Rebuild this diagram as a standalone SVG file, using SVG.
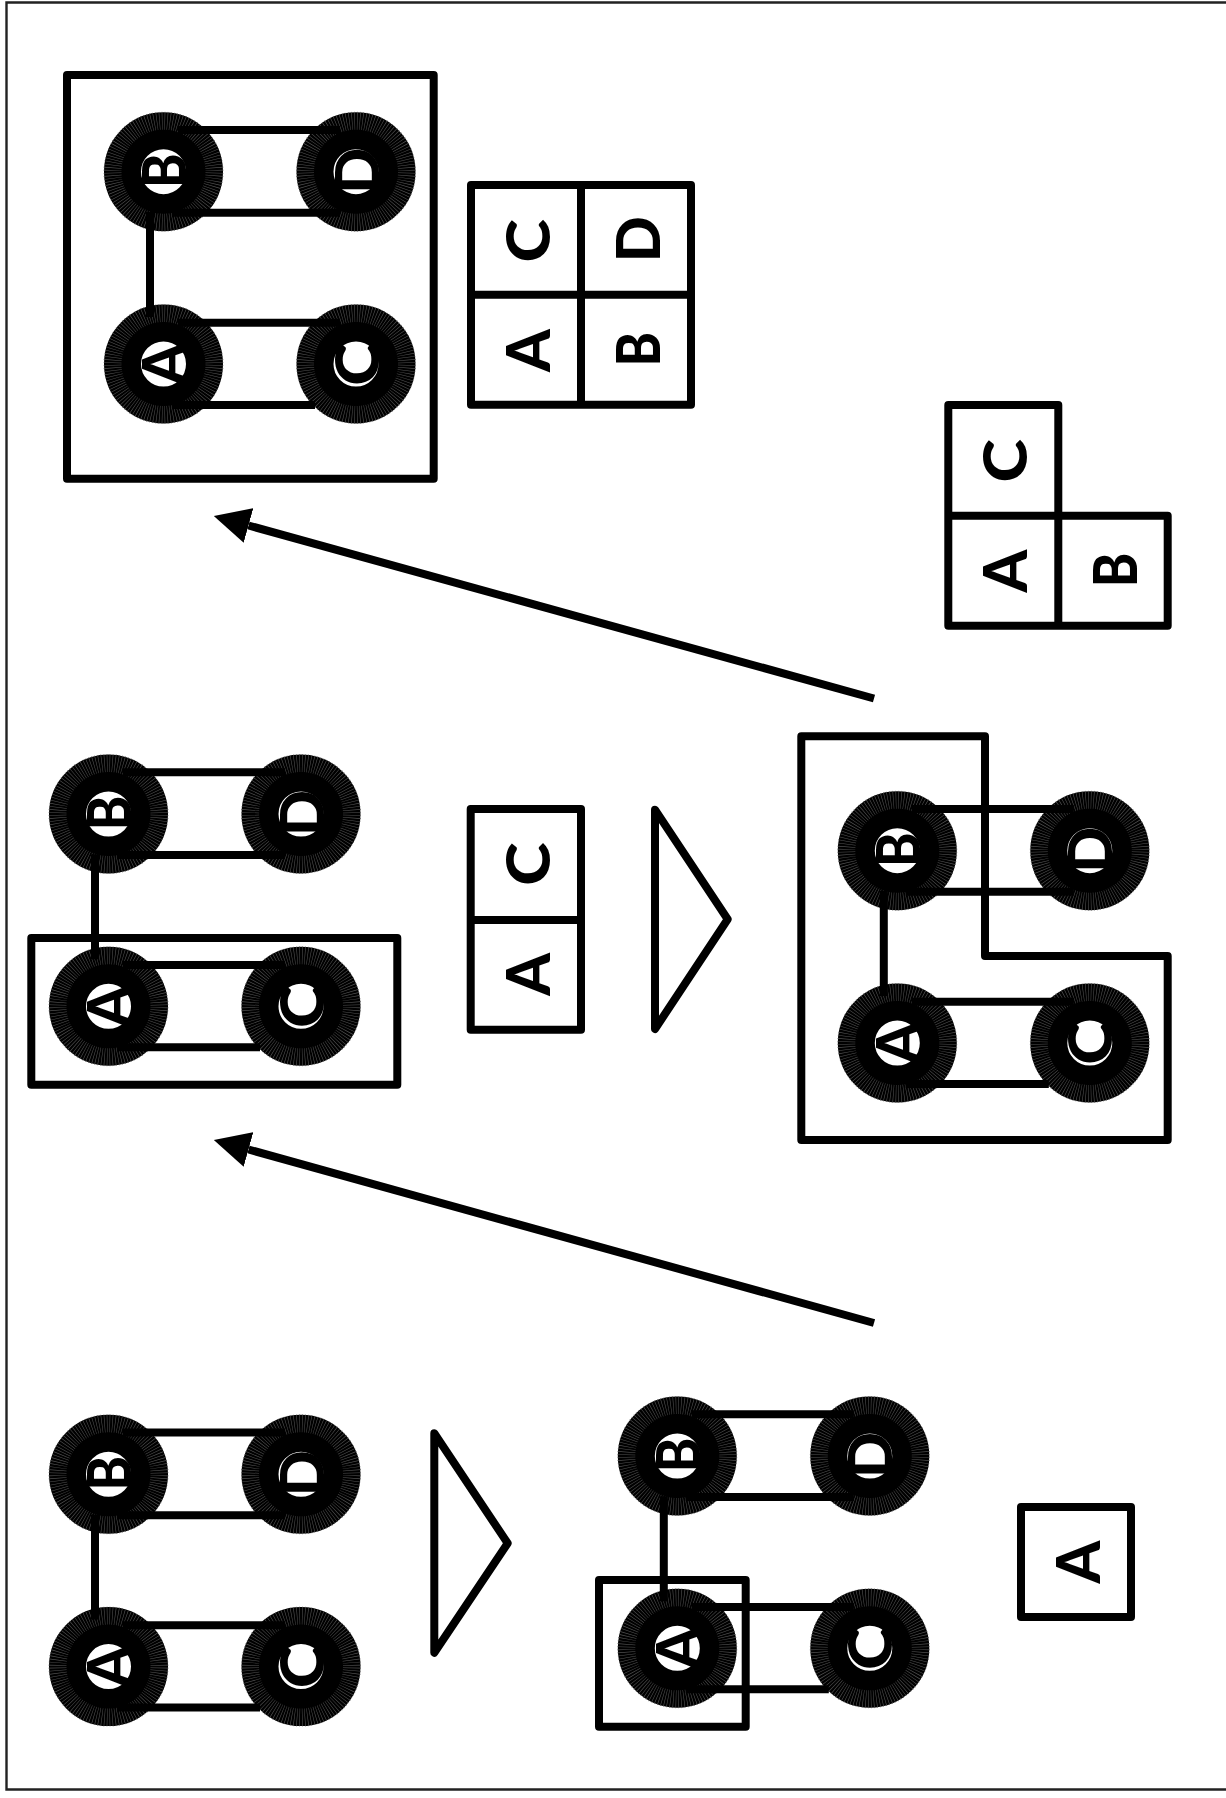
<svg xmlns="http://www.w3.org/2000/svg" xmlns:xlink="http://www.w3.org/1999/xlink" width="1226" height="1798" viewBox="0 0 1226 1798">
<style>
.o{fill:none;stroke:#000;stroke-width:8;stroke-linejoin:round}
.ring{fill:none;stroke:#000;stroke-width:37}
.sp{fill:none;stroke:#555;stroke-width:18;stroke-dasharray:.6 2.4;stroke-dashoffset:-1.2}
.l{font-family:"Lato","Liberation Sans",sans-serif;font-weight:900;font-size:61px;text-anchor:middle;fill:#000}
.e{stroke:#000;stroke-width:8;fill:none}
</style>
<defs>
<marker id="ah" markerUnits="userSpaceOnUse" viewBox="0 -18 36 36" refX="0" refY="0" markerWidth="36" markerHeight="36" orient="auto"><path d="M0,-18L36,0L0,18Z" fill="#000"/></marker>
<g id="net" class="e"><path d="M178,130H340"/><path d="M172,212.7H340"/><path d="M178,322.7H340"/><path d="M172,405H315"/><path d="M150,212V317"/></g>
</defs>
<rect width="1226" height="1798" fill="#fff"/>
<path d="M1230,2.5H6.5V1789.5H1230" fill="none" stroke="#222" stroke-width="2.4"/>

<g id="c1-B" transform="translate(163.5,171.7)"><circle class="ring" r="41"/><circle class="sp" r="51" pathLength="360"/><text class="l" transform="translate(22.5,-1) rotate(-90) scale(.85,1)">B</text></g>
<g id="c1-D" transform="translate(356,171.7)"><circle class="ring" r="41"/><circle class="sp" r="51" pathLength="360"/><text class="l" transform="translate(22.5,-1) rotate(-90)">D</text></g>
<g id="c1-A" transform="translate(163.5,364)"><circle class="ring" r="41"/><circle class="sp" r="51" pathLength="360"/><text class="l" transform="translate(22.5,0) rotate(-90)">A</text></g>
<g id="c1-C" transform="translate(356,364)"><circle class="ring" r="41"/><circle class="sp" r="51" pathLength="360"/><text class="l" transform="translate(22.5,0) rotate(-90) scale(1.08,1)">C</text></g>

<g id="c2-B" transform="translate(108.5,814)"><circle class="ring" r="41"/><circle class="sp" r="51" pathLength="360"/><text class="l" transform="translate(22.5,-1) rotate(-90) scale(.85,1)">B</text></g>
<g id="c2-D" transform="translate(301,814)"><circle class="ring" r="41"/><circle class="sp" r="51" pathLength="360"/><text class="l" transform="translate(22.5,-1) rotate(-90)">D</text></g>
<g id="c2-A" transform="translate(108.5,1006.3)"><circle class="ring" r="41"/><circle class="sp" r="51" pathLength="360"/><text class="l" transform="translate(22.5,0) rotate(-90)">A</text></g>
<g id="c2-C" transform="translate(301,1006.3)"><circle class="ring" r="41"/><circle class="sp" r="51" pathLength="360"/><text class="l" transform="translate(22.5,0) rotate(-90) scale(1.08,1)">C</text></g>

<g id="c3-B" transform="translate(897.3,850.7)"><circle class="ring" r="41"/><circle class="sp" r="51" pathLength="360"/><text class="l" transform="translate(22.5,-1) rotate(-90) scale(.85,1)">B</text></g>
<g id="c3-D" transform="translate(1089.8,850.7)"><circle class="ring" r="41"/><circle class="sp" r="51" pathLength="360"/><text class="l" transform="translate(22.5,-1) rotate(-90)">D</text></g>
<g id="c3-A" transform="translate(897.3,1043)"><circle class="ring" r="41"/><circle class="sp" r="51" pathLength="360"/><text class="l" transform="translate(22.5,0) rotate(-90)">A</text></g>
<g id="c3-C" transform="translate(1089.8,1043)"><circle class="ring" r="41"/><circle class="sp" r="51" pathLength="360"/><text class="l" transform="translate(22.5,0) rotate(-90) scale(1.08,1)">C</text></g>

<g id="c4-B" transform="translate(108.5,1474.3)"><circle class="ring" r="41"/><circle class="sp" r="51" pathLength="360"/><text class="l" transform="translate(22.5,-1) rotate(-90) scale(.85,1)">B</text></g>
<g id="c4-D" transform="translate(301,1474.3)"><circle class="ring" r="41"/><circle class="sp" r="51" pathLength="360"/><text class="l" transform="translate(22.5,-1) rotate(-90)">D</text></g>
<g id="c4-A" transform="translate(108.5,1666.6)"><circle class="ring" r="41"/><circle class="sp" r="51" pathLength="360"/><text class="l" transform="translate(22.5,0) rotate(-90)">A</text></g>
<g id="c4-C" transform="translate(301,1666.6)"><circle class="ring" r="41"/><circle class="sp" r="51" pathLength="360"/><text class="l" transform="translate(22.5,0) rotate(-90) scale(1.08,1)">C</text></g>

<g id="c5-B" transform="translate(677.3,1456)"><circle class="ring" r="41"/><circle class="sp" r="51" pathLength="360"/><text class="l" transform="translate(22.5,-1) rotate(-90) scale(.85,1)">B</text></g>
<g id="c5-D" transform="translate(869.8,1456)"><circle class="ring" r="41"/><circle class="sp" r="51" pathLength="360"/><text class="l" transform="translate(22.5,-1) rotate(-90)">D</text></g>
<g id="c5-A" transform="translate(677.3,1648.3)"><circle class="ring" r="41"/><circle class="sp" r="51" pathLength="360"/><text class="l" transform="translate(22.5,0) rotate(-90)">A</text></g>
<g id="c5-C" transform="translate(869.8,1648.3)"><circle class="ring" r="41"/><circle class="sp" r="51" pathLength="360"/><text class="l" transform="translate(22.5,0) rotate(-90) scale(1.08,1)">C</text></g>

<g id="connectors">
<use href="#net" xlink:href="#net"/>
<use href="#net" xlink:href="#net" transform="translate(-55,642.3)"/>
<use href="#net" xlink:href="#net" transform="translate(733.8,679)"/>
<use href="#net" xlink:href="#net" transform="translate(-55,1302.6)"/>
<use href="#net" xlink:href="#net" transform="translate(513.8,1284.3)"/>
<line class="e" x1="874" y1="698.5" x2="248.5" y2="525.5" marker-end="url(#ah)"/>
<line class="e" x1="874" y1="1323" x2="248.5" y2="1149.5" marker-end="url(#ah)"/>
</g>

<g id="frames">
<rect id="frame-top" class="o" x="67" y="75" width="366.7" height="403.7"/>
<rect id="frame-mid" class="o" x="31.3" y="938" width="366" height="146.7"/>
<path id="frame-l" class="o" d="M801.3,736.3H985V956H1167.7V1140H801.3Z"/>
<rect id="frame-a" class="o" x="599" y="1580" width="146.7" height="146.7"/>
</g>

<g id="grid-abcd">
<path class="o" d="M471,185H691V404.7H471ZM581,185V404.7M471,294.7H691"/>
<text class="l" transform="translate(550,240.7) rotate(-90) scale(1.08,1)">C</text>
<text class="l" transform="translate(660,239.3) rotate(-90)">D</text>
<text class="l" transform="translate(550,350.7) rotate(-90)">A</text>
<text class="l" transform="translate(660,349.3) rotate(-90) scale(.85,1)">B</text>
</g>
<g id="grid-abc">
<path class="o" d="M948.3,405H1058.3V515.7H1167.7V625.7H948.3ZM948.3,515.7H1058.3V625.7"/>
<text class="l" transform="translate(1027,460.7) rotate(-90) scale(1.08,1)">C</text>
<text class="l" transform="translate(1027,571) rotate(-90)">A</text>
<text class="l" transform="translate(1136.7,570) rotate(-90) scale(.85,1)">B</text>
</g>
<g id="grid-ac">
<path class="o" d="M470.7,809H581V1029.7H470.7ZM470.7,920H581"/>
<text class="l" transform="translate(550,864) rotate(-90) scale(1.08,1)">C</text>
<text class="l" transform="translate(550,974.3) rotate(-90)">A</text>
</g>
<g id="grid-a">
<rect class="o" x="1021" y="1507" width="110" height="110"/>
<text class="l" transform="translate(1100,1562) rotate(-90)">A</text>
</g>
<path id="tri-1" class="o" d="M655,809.7L727.7,919.3L655,1029Z"/>
<path id="tri-2" class="o" d="M434.3,1433.3L507.7,1543.3L434.3,1652.7Z"/>
</svg>
